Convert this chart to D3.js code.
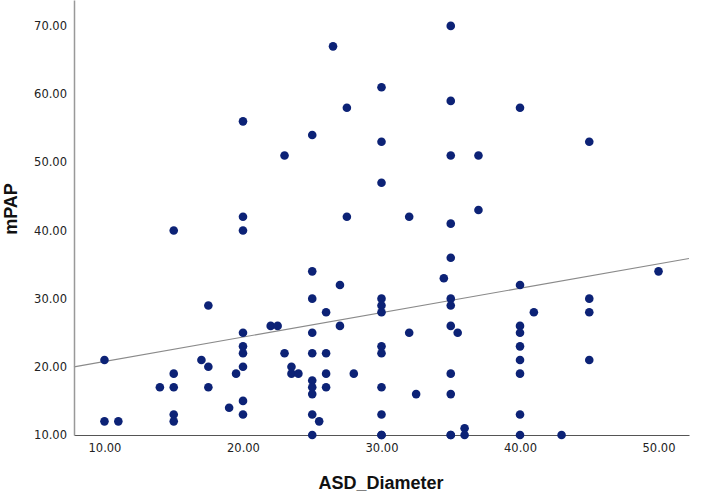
<!DOCTYPE html>
<html>
<head>
<meta charset="utf-8">
<script src="https://cdn.jsdelivr.net/npm/d3@7"></script>
<style>
  html, body { margin: 0; padding: 0; background: #fff; }
  svg { display: block; }
</style>
</head>
<body>
<svg id="chart" width="716" height="493"></svg>
<script>
// ASD_Diameter values
const asdDiameter = [
  10, 10, 11, 14, 15, 15, 15, 15, 15, 17, 17.5, 17.5, 17.5,
  19, 19.5, 20, 20, 20, 20, 20, 20, 20, 20, 20,
  22, 22.5, 23, 23, 23.5, 23.5, 24,
  25, 25, 25, 25, 25, 25, 25, 25, 25, 25, 25.5,
  26, 26, 26, 26, 26.5, 27, 27, 27.5, 27.5, 28,
  30, 30, 30, 30, 30, 30, 30, 30, 30, 30, 30, 30,
  32, 32, 32.5, 34.5,
  35, 35, 35, 35, 35, 35, 35, 35, 35, 35, 35, 35, 35.5, 36, 36,
  37, 37,
  40, 40, 40, 40, 40, 40, 40, 40, 40, 41, 43,
  45, 45, 45, 45, 50
];
// mPAP values (same order)
const mPAP = [
  21, 12, 12, 17, 40, 19, 17, 13, 12, 21, 29, 20, 17,
  14, 19, 56, 42, 40, 25, 23, 22, 20, 15, 13,
  26, 26, 51, 22, 20, 19, 19,
  54, 34, 30, 25, 22, 18, 17, 16, 13, 10, 12,
  28, 22, 19, 17, 67, 32, 26, 58, 42, 19,
  61, 53, 47, 30, 29, 28, 23, 22, 17, 13, 10, 10,
  42, 25, 16, 33,
  70, 59, 51, 41, 36, 30, 29, 26, 19, 16, 10, 10, 25, 11, 10,
  51, 43,
  58, 32, 26, 25, 23, 21, 19, 13, 10, 28, 10,
  53, 30, 28, 21, 34
];
// Fit line (intercept, slope)
const fitLine = [17.2, 0.358];
const xTicks = [10, 20, 30, 40, 50];
const yTicks = [10, 20, 30, 40, 50, 60, 70];
const xDomain = [7.8, 52.2];
const yDomain = [10, 73.8];

const svg = d3.select("#chart");
const plotLeft = 74, plotRight = 689, plotTop = 0, plotBottom = 435;
const tickFont = "'DejaVu Sans', Verdana, sans-serif";
const titleFont = "'Liberation Sans', Arial, Helvetica, sans-serif";

const x = d3.scaleLinear().domain(xDomain).range([plotLeft, plotRight]);
const y = d3.scaleLinear().domain(yDomain).range([plotBottom, plotTop]);

// Regression line
const lineData = xDomain.map(v => [v, fitLine[0] + fitLine[1] * v]);
svg.append("path")
  .attr("d", d3.line().x(d => x(d[0])).y(d => y(d[1]))(lineData))
  .attr("fill", "none")
  .attr("stroke", "#8a8a8a")
  .attr("stroke-width", 1.1);

// Axes
const xAxis = d3.axisBottom(x).tickValues(xTicks).tickFormat(d3.format(".2f")).tickSize(0).tickPadding(9);
const yAxis = d3.axisLeft(y).tickValues(yTicks).tickFormat(d3.format(".2f")).tickSize(0).tickPadding(7);

const gx = svg.append("g").attr("transform", `translate(0,${plotBottom})`).call(xAxis);
gx.select(".domain").attr("stroke", "#555").attr("stroke-width", 1.2);
gx.selectAll("text").attr("font-size", 11.5).attr("fill", "#222")
  .attr("font-family", tickFont);

const gy = svg.append("g").attr("transform", `translate(${plotLeft},0)`).call(yAxis);
gy.select(".domain").attr("stroke", "#999").attr("stroke-width", 1.5);
gy.selectAll("text").attr("font-size", 11.5).attr("fill", "#222")
  .attr("font-family", tickFont);

// Points
svg.append("g").selectAll("circle")
  .data(asdDiameter.map((d, i) => [d, mPAP[i]]))
  .join("circle")
  .attr("cx", d => x(d[0]))
  .attr("cy", d => y(d[1]))
  .attr("r", 4.3)
  .attr("fill", "#0c2276");

// Axis titles
svg.append("text")
  .attr("x", 381)
  .attr("y", 489)
  .attr("text-anchor", "middle")
  .attr("font-family", titleFont)
  .attr("font-size", 18)
  .attr("font-weight", "bold")
  .attr("fill", "#111")
  .text("ASD_Diameter");

svg.append("text")
  .attr("transform", "translate(17,209) rotate(-90)")
  .attr("text-anchor", "middle")
  .attr("font-family", titleFont)
  .attr("font-size", 18)
  .attr("font-weight", "bold")
  .attr("fill", "#111")
  .text("mPAP");
</script>
</body>
</html>
